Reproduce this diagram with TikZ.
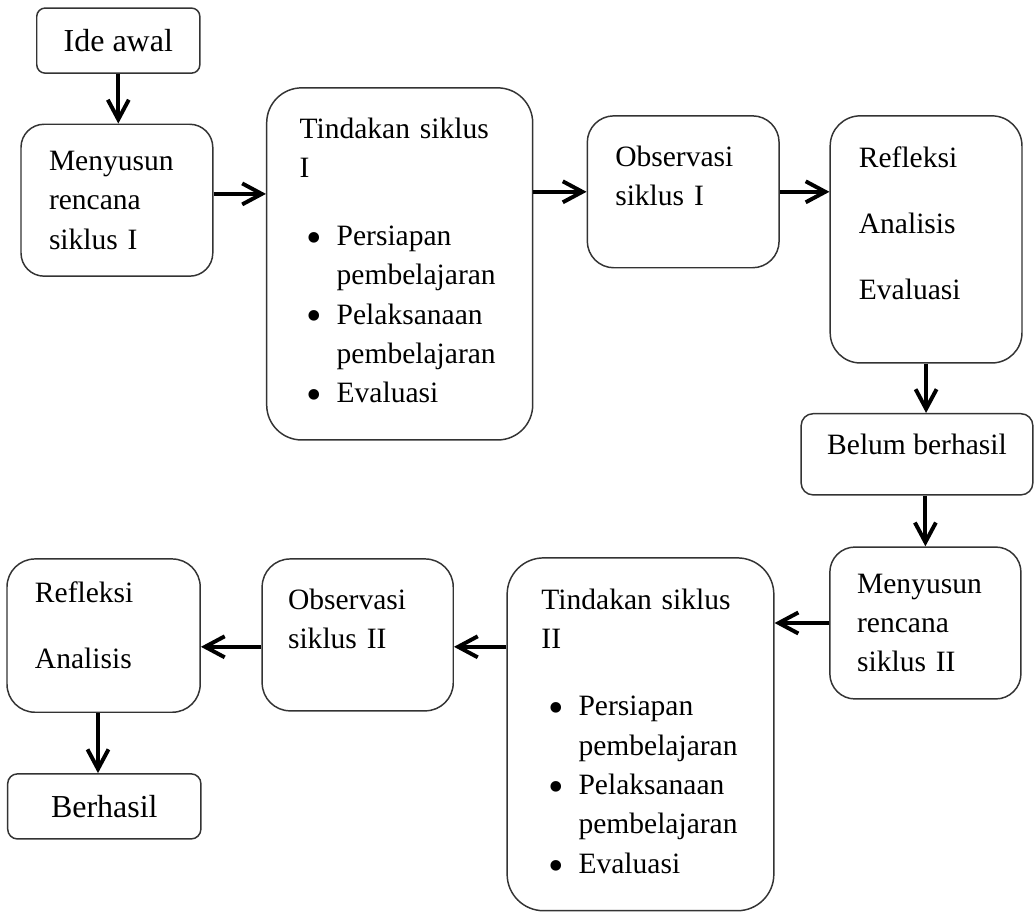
\documentclass[tikz,border=0pt]{standalone}
\usepackage{fontspec}
\usepackage{graphicx}
\setmainfont{Liberation Serif}
\usetikzlibrary{arrows.meta}

\newcommand{\butir}{\hspace*{0.10cm}\makebox[0.43cm][l]{\raisebox{-2.8pt}{\scalebox{1.5}{\textbullet}}}}
\newcommand{\lanjut}{\hspace*{0.53cm}}

\tikzset{
    kotak/.style={draw=black!80, line width=0.6pt, inner ysep=0pt, font=\fontsize{12}{16}\selectfont},
    isi/.style={kotak, align=left, inner xsep=0.4cm},
    panah/.style={-{Straight Barb[length=0.28cm,width=0.3cm]}, line width=1.6pt}
}

\begin{document}
\begin{tikzpicture}
\useasboundingbox (0,0) rectangle (14.786,-13.029);

% Siklus I
\node[kotak, rounded corners=0.12cm, minimum width=2.33cm, minimum height=0.93cm, font=\fontsize{13}{16}\selectfont] (ide) at (1.69,-0.58) {Ide awal};
\node[isi, rounded corners=0.33cm, minimum width=2.74cm, minimum height=2.17cm, text width=1.94cm] (rencana1) at (1.67,-2.86)
    {Menyusun\\ rencana\\ siklus I};
\node[isi, rounded corners=0.5cm, minimum width=3.8cm, minimum height=5.03cm, inner xsep=0.47cm, text width=2.86cm] (tindakan1) at (5.71,-3.77)
    {Tindakan siklus\\ I\\[0.4cm] \butir Persiapan\\ \lanjut pembelajaran\\ \butir Pelaksanaan\\ \lanjut pembelajaran\\ \butir Evaluasi};
\node[isi, rounded corners=0.38cm, minimum width=2.74cm, minimum height=2.17cm, text width=1.94cm, text depth=1.02cm] (observasi1) at (9.76,-2.74)
    {Observasi\\ siklus I};
\node[isi, rounded corners=0.43cm, minimum width=2.74cm, minimum height=3.53cm, inner xsep=0.41cm, text width=1.92cm, text depth=2.36cm] (refleksi1) at (13.23,-3.42)
    {Refleksi\\[0.38cm] Analisis\\[0.38cm] Evaluasi};
\node[kotak, rounded corners=0.17cm, minimum width=3.31cm, minimum height=1.16cm, text depth=0.3cm] (belum) at (13.1,-6.49) {Belum berhasil};

% Siklus II
\node[isi, rounded corners=0.36cm, minimum width=2.73cm, minimum height=2.17cm, inner xsep=0.39cm, text width=1.95cm] (rencana2) at (13.22,-8.9)
    {Menyusun\\ rencana\\ siklus II};
\node[isi, rounded corners=0.52cm, minimum width=3.81cm, minimum height=5.04cm, inner xsep=0.49cm, text width=2.83cm] (tindakan2) at (9.15,-10.49)
    {Tindakan siklus\\ II\\[0.4cm] \butir Persiapan\\ \lanjut pembelajaran\\ \butir Pelaksanaan\\ \lanjut pembelajaran\\ \butir Evaluasi};
\node[isi, rounded corners=0.4cm, minimum width=2.73cm, minimum height=2.17cm, inner xsep=0.37cm, text width=1.99cm, text depth=1.02cm] (observasi2) at (5.11,-9.07)
    {Observasi\\ siklus II};
\node[isi, rounded corners=0.4cm, minimum width=2.76cm, minimum height=2.19cm, text width=1.96cm, text depth=1.23cm] (refleksi2) at (1.48,-9.08)
    {Refleksi\\[0.38cm] Analisis};
\node[kotak, rounded corners=0.14cm, minimum width=2.76cm, minimum height=0.93cm, font=\fontsize{13}{16}\selectfont] (berhasil) at (1.49,-11.52) {Berhasil};

% Arrows
\draw[panah] (ide.south) -- (ide.south |- rencana1.north);
\draw[panah] ([yshift=0.09cm]rencana1.east) -- ([yshift=0.09cm]rencana1.east -| tindakan1.west);
\draw[panah] (tindakan1.east |- observasi1.west) -- (observasi1.west);
\draw[panah] (observasi1.east) -- (observasi1.east -| refleksi1.west);
\draw[panah] (refleksi1.south) -- (refleksi1.south |- belum.north);
\draw[panah] (rencana2.north |- belum.south) -- (rencana2.north);
\draw[panah] (rencana2.west) -- (rencana2.west -| tindakan2.east);
\draw[panah] ([yshift=-0.17cm]tindakan2.west |- observasi2.east) -- ([yshift=-0.17cm]observasi2.east);
\draw[panah] ([yshift=-0.17cm]observasi2.west) -- ([yshift=-0.17cm]observasi2.west -| refleksi2.east);
\draw[panah] ([xshift=-0.08cm]refleksi2.south) -- ([xshift=-0.08cm]refleksi2.south |- berhasil.north);

\end{tikzpicture}
\end{document}
